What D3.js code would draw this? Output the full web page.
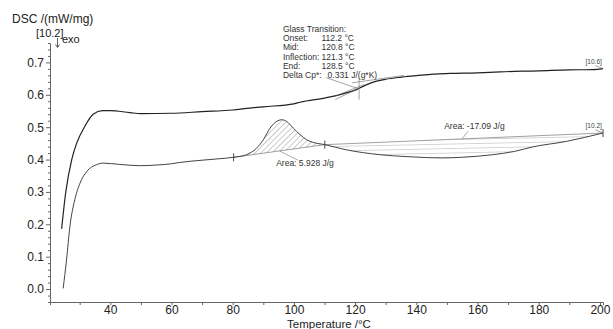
<!DOCTYPE html>
<html><head><meta charset="utf-8">
<script src="https://cdn.jsdelivr.net/npm/d3@7"></script>
<style>body{margin:0;background:#fff}svg{display:block;font-family:"Liberation Sans",Arial,sans-serif}</style>
</head><body>
<script>
// ---- data ----
const upperT = [24.1,25.4,27.4,29.0,31.7,34.4,37.5,40,46.4,50,60,70,80,85.6,90,100,102,110,112.7,116,120.5,122.6,125,127,130,134.6,140,145.5,151,160,167.4,180,190,197.6,201];
const upperV = [0.186,0.296,0.40,0.45,0.503,0.540,0.551,0.551,0.545,0.542,0.543,0.548,0.553,0.559,0.563,0.572,0.577,0.59,0.595,0.603,0.616,0.626,0.636,0.642,0.648,0.654,0.659,0.664,0.666,0.668,0.671,0.674,0.677,0.678,0.681];
const lowerT = [24.6,25.7,26.8,28.4,30.1,32.3,35.5,37.7,43.1,49.7,55,60,62.7,70,75,80.3,84.5,87.8,90,92.2,94.4,96,97.6,99.8,102,104.2,106.3,110.1,117.2,128.1,137,143.4,148,155,165,172,178,189,201];
const lowerV = [0.002,0.09,0.193,0.276,0.327,0.363,0.384,0.389,0.385,0.381,0.383,0.387,0.391,0.398,0.402,0.407,0.415,0.435,0.461,0.497,0.518,0.523,0.518,0.497,0.477,0.461,0.453,0.446,0.430,0.415,0.409,0.406,0.405,0.407,0.415,0.425,0.439,0.456,0.482];
const xTicks = [40,60,80,100,120,140,160,180,200];
const yTicks = [0.0,0.1,0.2,0.3,0.4,0.5,0.6,0.7];
const peak1 = [80.3, 110.1];   // Area 5.928 J/g
const peak2 = [110.1, 201];    // Area -17.09 J/g
const glassLines = ["Glass Transition:","Onset:","Mid:","Inflection:","End:","Delta Cp*:"];
const glassValues = ["","112.2 °C","120.8 °C","121.3 °C","128.5 °C","0.331 J/(g*K)"];

const W=613,H=329;
const svg=d3.select("body").append("svg").attr("width",W).attr("height",H);
const x=d3.scaleLinear().domain([20.3,201]).range([50,603]);
const y=d3.scaleLinear().domain([-0.04,0.76]).range([302,43]);
const upper=upperT.map((t,i)=>({t,v:upperV[i]}));
const lower=lowerT.map((t,i)=>({t,v:lowerV[i]}));
const interp=(arr,t)=>{for(let i=1;i<arr.length;i++){if(t<=arr[i].t){const a=arr[i-1],b=arr[i];return a.v+(b.v-a.v)*(t-a.t)/(b.t-a.t);}}return arr[arr.length-1].v;};

// patterns
const defs=svg.append("defs");
const p1=defs.append("pattern").attr("id","hatchD").attr("patternUnits","userSpaceOnUse").attr("width",4).attr("height",4).attr("patternTransform","rotate(45)");
p1.append("line").attr("x1",0).attr("y1",0).attr("x2",0).attr("y2",4).attr("stroke","#666").attr("stroke-width",0.7);
const p2=defs.append("pattern").attr("id","hatchH").attr("patternUnits","userSpaceOnUse").attr("width",6).attr("height",4.5).attr("patternTransform","rotate(-1.2)");
p2.append("line").attr("x1",0).attr("y1",0).attr("x2",6).attr("y2",0).attr("stroke","#888").attr("stroke-width",0.7);

// axes
const gx=svg.append("g").attr("transform","translate(0,302)");
gx.call(d3.axisBottom(x).tickValues(d3.range(30,201,10)).tickSize(3).tickPadding(2).tickFormat(d=>xTicks.includes(d)?d:""));
const gy=svg.append("g").attr("transform","translate(50,0)");
gy.call(d3.axisLeft(y).tickValues(d3.range(-0.02,0.761,0.02)).tickSize(2).tickFormat(""));
gy.call(g=>g.selectAll(".tick").filter(d=>yTicks.some(v=>Math.abs(v-d)<1e-6)).select("line").attr("x2",-4));
svg.append("g").attr("transform","translate(50,0)").call(d3.axisLeft(y).tickValues(yTicks).tickSize(0).tickPadding(6).tickFormat(d3.format(".1f")))
  .call(g=>g.select(".domain").remove());
svg.selectAll(".domain").attr("stroke","#666");
svg.selectAll(".tick line").attr("stroke","#666");
svg.selectAll(".tick text").attr("font-size",12).attr("fill","#222").attr("font-family","Liberation Sans, Arial, sans-serif");
gx.selectAll(".tick text").attr("dy","0.55em");

// axis labels
svg.append("text").attr("x",12).attr("y",23).attr("font-size",12).attr("fill","#222").text("DSC /(mW/mg)");
svg.append("text").attr("x",36).attr("y",37).attr("font-size",11).attr("fill","#222").text("[10.2]");
svg.append("text").attr("x",62).attr("y",43).attr("font-size",11).attr("fill","#222").text("exo");
svg.append("path").attr("d","M57.5,38 V47 M55.5,44.5 L57.5,47.5 L59.5,44.5").attr("stroke","#333").attr("fill","none").attr("stroke-width",0.8);
svg.append("text").attr("x",329).attr("y",327.5).attr("text-anchor","middle").attr("font-size",11.5).attr("fill","#222").text("Temperature /°C");

const line=d3.line().x(d=>x(d.t)).y(d=>y(d.v)).curve(d3.curveMonotoneX);

// area 1 (peak, diagonal hatch)
const b1=[{t:peak1[0],v:interp(lower,peak1[0])},{t:peak1[1],v:interp(lower,peak1[1])}];
const base1=t=>b1[0].v+(b1[1].v-b1[0].v)*(t-b1[0].t)/(b1[1].t-b1[0].t);
const seg1=lower.filter(d=>d.t>=peak1[0]&&d.t<=peak1[1]);
svg.append("path").datum(seg1).attr("fill","url(#hatchD)")
  .attr("d",d3.area().x(d=>x(d.t)).y0(d=>y(base1(d.t))).y1(d=>y(d.v)).curve(d3.curveMonotoneX));
svg.append("path").datum(b1).attr("d",line).attr("stroke","#777").attr("fill","none").attr("stroke-width",0.7);

// area 2 (horizontal hatch)
const b2=[{t:peak2[0],v:interp(lower,peak2[0])},{t:peak2[1],v:interp(lower,peak2[1])}];
const base2=t=>b2[0].v+(b2[1].v-b2[0].v)*(t-b2[0].t)/(b2[1].t-b2[0].t);
const seg2=lower.filter(d=>d.t>=peak2[0]&&d.t<=peak2[1]);
svg.append("path").datum(seg2).attr("fill","url(#hatchH)")
  .attr("d",d3.area().x(d=>x(d.t)).y0(d=>y(base2(d.t))).y1(d=>y(d.v)).curve(d3.curveMonotoneX));
svg.append("path").datum(b2).attr("d",line).attr("stroke","#777").attr("fill","none").attr("stroke-width",0.7);

// curves
svg.append("path").datum(upper).attr("d",line).attr("stroke","#222").attr("fill","none").attr("stroke-width",1.2);
svg.append("path").datum(lower).attr("d",line).attr("stroke","#444").attr("fill","none").attr("stroke-width",1);

// markers on lower curve
[peak1[0],peak1[1],peak2[1]].forEach(t=>{
  const px=x(t),py=y(interp(lower,t));
  svg.append("line").attr("x1",px).attr("x2",px).attr("y1",py-4).attr("y2",py+4).attr("stroke","#333").attr("stroke-width",0.9);
});

// area labels
const ann=(t,v,txt)=>svg.append("text").attr("x",x(t)).attr("y",y(v)).attr("font-size",8.5).attr("fill","#333").text(txt);
svg.append("line").attr("x1",x(95.4)).attr("y1",y(0.426)).attr("x2",x(101.3)).attr("y2",y(0.398)).attr("stroke","#777").attr("stroke-width",0.6);
ann(94.2,0.38,"Area: 5.928 J/g");
svg.append("line").attr("x1",x(156.9)).attr("y1",y(0.488)).attr("x2",x(154.9)).attr("y2",y(0.463)).attr("stroke","#777").attr("stroke-width",0.6);
ann(149.1,0.494,"Area: -17.09 J/g");

// end labels
svg.append("text").attr("x",x(195.3)).attr("y",y(0.696)).attr("font-size",6.5).attr("fill","#444").text("[10.6]");
svg.append("line").attr("x1",x(198.5)).attr("y1",y(0.69)).attr("x2",x(201)).attr("y2",y(0.681)).attr("stroke","#666").attr("stroke-width",0.6);
svg.append("text").attr("x",x(195.3)).attr("y",y(0.497)).attr("font-size",6.5).attr("fill","#444").text("[10.2]");
svg.append("line").attr("x1",x(198.5)).attr("y1",y(0.492)).attr("x2",x(201)).attr("y2",y(0.482)).attr("stroke","#666").attr("stroke-width",0.6);

// glass transition annotation
const gt=svg.append("g").attr("font-size",8.5).attr("fill","#333");
glassLines.forEach((s,i)=>{
  gt.append("text").attr("x",x(96.4)).attr("y",y(0.794-i*0.0284)).text(s);
  if(glassValues[i]) gt.append("text").attr("x",x(i===5?111:109)).attr("y",y(0.794-i*0.0284)).text(glassValues[i]);
});
const gl=[[[110.5,0.653],[121.3,0.618]],[[113.5,0.585],[121.3,0.621]],[[121.3,0.652],[121.3,0.585]],[[119,0.637],[136,0.66]],[[113,0.594],[123,0.632]]];
gl.forEach(seg=>svg.append("line").attr("x1",x(seg[0][0])).attr("y1",y(seg[0][1])).attr("x2",x(seg[1][0])).attr("y2",y(seg[1][1])).attr("stroke","#666").attr("stroke-width",0.6));
</script>
</body></html>
